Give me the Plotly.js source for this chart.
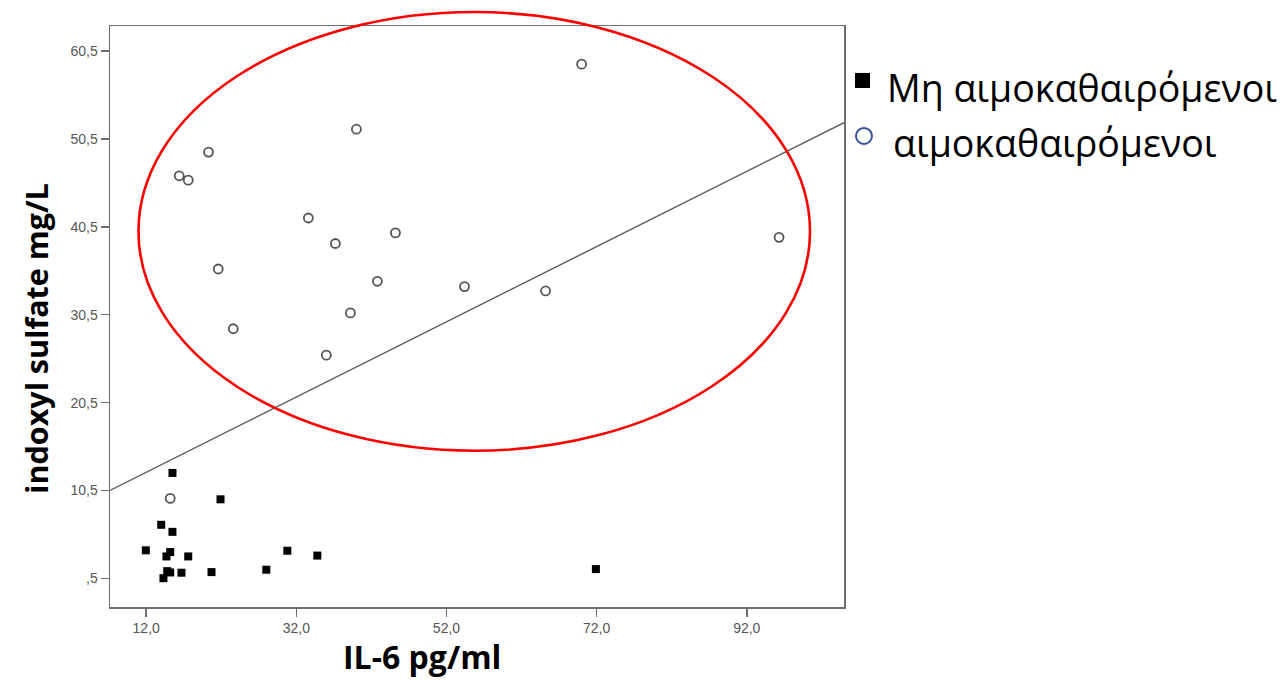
<!DOCTYPE html>
<html>
<head>
<meta charset="utf-8">
<script src="https://cdn.plot.ly/plotly-3.0.1.min.js"></script>
<style>html,body{margin:0;padding:0;background:#fff;}#chart{width:1280px;height:680px;}</style>
</head>
<body>
<div id="chart"></div>
<script>
// Non-hemodialysis patients (filled squares)
var nonHdIL6 = [15.5, 21.9, 14.0, 15.5, 11.95, 15.2, 14.7, 17.6, 30.8, 34.8, 14.8, 15.2, 16.7, 20.7, 28.0, 14.3, 71.9];
var nonHdIS  = [12.5, 9.5, 6.6, 5.8, 3.7, 3.5, 3.0, 3.0, 3.65, 3.1, 1.33, 1.18, 1.15, 1.22, 1.49, 0.53, 1.56];
// Hemodialysis patients (open circles)
var hdIL6 = [40.0, 20.3, 16.4, 17.6, 33.6, 37.2, 45.2, 21.6, 42.8, 39.2, 23.6, 36.0, 15.2, 70.0, 54.4, 65.2, 96.3];
var hdIS  = [51.6, 49.0, 46.3, 45.8, 41.5, 38.6, 39.8, 35.7, 34.3, 30.7, 28.9, 25.9, 9.6, 59.0, 33.7, 33.2, 39.3];
// Fit line (overall regression)
var fitIntercept = 7.43;
var fitSlope = 0.428;
// Ticks
var xTickVals = [12, 32, 52, 72, 92];
var xTickText = ["12,0", "32,0", "52,0", "72,0", "92,0"];
var yTickVals = [0.5, 10.5, 20.5, 30.5, 40.5, 50.5, 60.5];
var yTickText = [",5", "10,5", "20,5", "30,5", "40,5", "50,5", "60,5"];
var seriesNames = ["Μη αιμοκαθαιρόμενοι", "αιμοκαθαιρόμενοι"];
var xTitle = "IL-6 pg/ml";
var yTitle = "indoxyl sulfate mg/L";

var xRange = [7.18, 104.95];
var yRange = [-2.75, 63.34];

var fitX = [xRange[0], xRange[1]];
var fitY = fitX.map(function (v) { return fitIntercept + fitSlope * v; });

var traces = [
  {x: fitX, y: fitY, type: 'scatter', mode: 'lines', line: {color: '#5a5a5a', width: 1.4}, showlegend: false, hoverinfo: 'skip'},
  {x: nonHdIL6, y: nonHdIS, type: 'scatter', mode: 'markers', name: seriesNames[0],
   marker: {symbol: 'square', size: 8, color: '#000000'}, showlegend: false},
  {x: hdIL6, y: hdIS, type: 'scatter', mode: 'markers', name: seriesNames[1],
   marker: {symbol: 'circle-open', size: 9, color: '#555555', line: {width: 1.8, color: '#555555'}}, showlegend: false}
];

var axisCommon = {
  showgrid: false, zeroline: false, showline: true, mirror: true,
  linecolor: '#6e6e6e', linewidth: 1.5, ticks: 'outside', ticklen: 8, tickwidth: 1.5, tickcolor: '#6e6e6e',
  tickfont: {family: 'Liberation Sans, Arial, sans-serif', size: 14, color: '#555555'}
};

var layout = {
  width: 1280, height: 680,
  margin: {l: 109.5, r: 436, t: 26, b: 72.7},
  paper_bgcolor: '#ffffff', plot_bgcolor: '#ffffff',
  showlegend: false,
  xaxis: Object.assign({}, axisCommon, {range: xRange, tickmode: 'array', tickvals: xTickVals, ticktext: xTickText}),
  yaxis: Object.assign({}, axisCommon, {range: yRange, tickmode: 'array', tickvals: yTickVals, ticktext: yTickText}),
  shapes: [
    {type: 'circle', xref: 'paper', yref: 'paper', x0: 0.0388, x1: 0.9537, y0: 0.2689, y1: 1.0241,
     line: {color: '#ff0000', width: 2.6}, layer: 'above'},
    {type: 'rect', xref: 'paper', yref: 'paper', x0: 1.015, x1: 1.0354, y0: 0.8933, y1: 0.9192,
     fillcolor: '#000000', line: {width: 0}},
    {type: 'circle', xref: 'paper', yref: 'paper', x0: 1.0163, x1: 1.0381, y0: 0.7970, y1: 0.8245,
     line: {color: '#2f5597', width: 2}}
  ],
  annotations: [
    {text: xTitle, xref: 'paper', yref: 'paper', x: 0.4248, y: -0.086, xanchor: 'center', yanchor: 'middle',
     showarrow: false, font: {family: 'Open Sans, sans-serif', size: 32, color: '#000000', weight: 'bold'}},
    {text: yTitle, xref: 'paper', yref: 'paper', x: -0.1, y: 0.4625, xanchor: 'center', yanchor: 'middle',
     textangle: -90, showarrow: false, font: {family: 'Open Sans, sans-serif', size: 30.5, color: '#000000', weight: 'bold'}},
    {text: seriesNames[0], xref: 'paper', yref: 'paper', x: 1.0565, y: 0.8933, xanchor: 'left', yanchor: 'middle',
     showarrow: false, font: {family: 'Open Sans, sans-serif', size: 37.5, color: '#000000'}},
    {text: seriesNames[1], xref: 'paper', yref: 'paper', x: 1.0647, y: 0.7987, xanchor: 'left', yanchor: 'middle',
     showarrow: false, font: {family: 'Open Sans, sans-serif', size: 37.5, color: '#000000'}}
  ]
};

Plotly.newPlot('chart', traces, layout, {displayModeBar: false, staticPlot: true});
</script>
</body>
</html>
